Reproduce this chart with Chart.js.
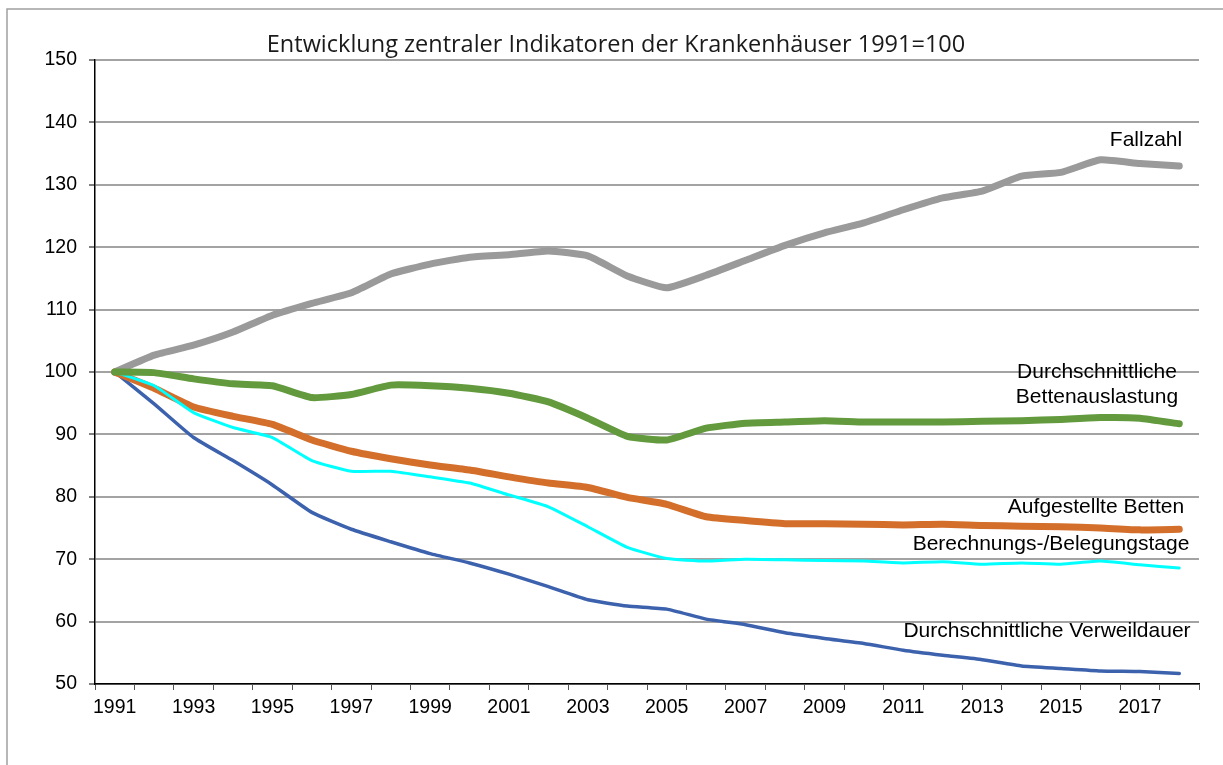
<!DOCTYPE html>
<html>
<head>
<meta charset="utf-8">
<script src="https://cdn.jsdelivr.net/npm/chart.js@4/dist/chart.umd.min.js"></script>
<style>
html,body{margin:0;padding:0;background:#fff;}
#wrap{width:1223px;height:765px;position:relative;}
</style>
</head>
<body>
<div id="wrap"><canvas id="c" width="1223" height="765"></canvas></div>
<script>
const years = ['1991','1992','1993','1994','1995','1996','1997','1998','1999','2000','2001','2002','2003','2004','2005','2006','2007','2008','2009','2010','2011','2012','2013','2014','2015','2016','2017','2018'];
const fallzahl = [100,102.7,104.3,106.4,109.1,111.0,112.7,115.7,117.3,118.4,118.8,119.4,118.6,115.4,113.5,115.5,117.9,120.3,122.3,123.9,126.0,127.9,129.0,131.4,132.0,134.0,133.4,133.0];
const bettenauslastung = [100,99.9,98.9,98.1,97.8,95.9,96.4,97.9,97.8,97.4,96.6,95.2,92.6,89.7,89.1,91.0,91.8,92.0,92.2,92.0,92.0,92.0,92.1,92.2,92.4,92.7,92.6,91.7];
const aufgestellteBetten = [100,97.4,94.4,92.9,91.6,89.1,87.3,86.1,85.1,84.3,83.2,82.2,81.5,79.9,78.8,76.8,76.2,75.7,75.7,75.6,75.5,75.6,75.4,75.3,75.2,75.0,74.7,74.8];
const belegungstage = [100,97.8,93.5,91.1,89.5,85.8,84.1,84.1,83.2,82.2,80.3,78.4,75.2,71.9,70.1,69.7,70.0,69.9,69.8,69.7,69.4,69.6,69.2,69.4,69.2,69.7,69.1,68.6];
const verweildauer = [100,94.9,89.5,85.8,81.9,77.5,74.8,72.8,70.9,69.4,67.6,65.6,63.5,62.5,62.0,60.4,59.5,58.2,57.3,56.5,55.4,54.6,53.9,52.9,52.5,52.1,52.0,51.7];
const yTicks = [50,60,70,80,90,100,110,120,130,140,150];
const titleText = 'Entwicklung zentraler Indikatoren der Krankenhäuser 1991=100';
const seriesLabels = ['Fallzahl','Durchschnittliche\nBettenauslastung','Aufgestellte Betten','Berechnungs-/Belegungstage','Durchschnittliche Verweildauer'];

const FONT = '"Liberation Sans", Arial, sans-serif';

const decor = {
  id: 'decor',
  beforeDraw(chart) {
    const ctx = chart.ctx;
    ctx.save();
    ctx.strokeStyle = '#a0a0a0';
    ctx.lineWidth = 1.5;
    ctx.beginPath();
    ctx.moveTo(7, 800);
    ctx.lineTo(7, 9);
    ctx.lineTo(1300, 9);
    ctx.stroke();
    // title
    ctx.fillStyle = '#1a1a1a';
    ctx.font = '23.5px "Open Sans", sans-serif';
    ctx.textAlign = 'center';
    ctx.textBaseline = 'middle';
    ctx.fillText(titleText, 616, 45);
    ctx.restore();
  },
  afterDatasetsDraw(chart) {
    const ctx = chart.ctx;
    const a = chart.chartArea;
    ctx.save();
    ctx.fillStyle = '#000';
    ctx.font = '21px ' + FONT;
    ctx.textBaseline = 'middle';
    ctx.textAlign = 'center';
    const place = [
      [seriesLabels[0], a.right - 53, 140],
      [seriesLabels[1], a.right - 102, 372],
      [seriesLabels[2], a.right - 103, 507],
      [seriesLabels[3], a.right - 148, 544],
      [seriesLabels[4], a.right - 152, 631]
    ];
    place.forEach(([t, x, y]) => {
      t.split('\n').forEach((line, i) => ctx.fillText(line, x, y + i * 25));
    });
    ctx.restore();
  }
};

const common = { pointRadius: 0, pointHoverRadius: 0, borderCapStyle: 'round', borderJoinStyle: 'round', tension: 0.15, fill: false };

new Chart(document.getElementById('c'), {
  type: 'line',
  data: {
    labels: years,
    datasets: [
      Object.assign({ label: 'Fallzahl', data: fallzahl, borderColor: '#9a9a9a', borderWidth: 7, order: 5 }, common),
      Object.assign({ label: 'Durchschnittliche Verweildauer', data: verweildauer, borderColor: '#3d62ad', borderWidth: 3.5, order: 4 }, common),
      Object.assign({ label: 'Aufgestellte Betten', data: aufgestellteBetten, borderColor: '#d36f2b', borderWidth: 7, order: 3 }, common),
      Object.assign({ label: 'Berechnungs-/Belegungstage', data: belegungstage, borderColor: '#00ffff', borderWidth: 3, order: 2 }, common),
      Object.assign({ label: 'Durchschnittliche Bettenauslastung', data: bettenauslastung, borderColor: '#629a3d', borderWidth: 7, order: 1 }, common)
    ]
  },
  options: {
    responsive: false,
    animation: false,
    devicePixelRatio: 1,
    layout: { padding: { left: 0, top: 60, right: 24, bottom: 0 } },
    plugins: { legend: { display: false }, title: { display: false }, tooltip: { enabled: false } },
    scales: {
      x: {
        type: 'category',
        offset: true,
        grid: { display: true, drawOnChartArea: false, drawTicks: true, tickLength: 6, tickColor: '#555', offset: true, lineWidth: 1 },
        border: { display: true, color: '#000', width: 1.5 },
        ticks: {
          autoSkip: false, maxRotation: 0, minRotation: 0, padding: 6,
          color: '#000', font: { family: FONT, size: 19.5 },
          callback: (v, i) => (i % 2 === 0 ? years[i] : '')
        },
        afterFit(s) { s.height = 81; }
      },
      y: {
        min: 50, max: 150,
        afterBuildTicks(s) { s.ticks = yTicks.map(v => ({ value: v })); },
        grid: { color: '#a3a3a3', lineWidth: 2, drawTicks: true, tickLength: 6, tickColor: '#000', tickWidth: 1 },
        border: { display: true, color: '#000', width: 1.5 },
        ticks: { padding: 12, color: '#000', font: { family: FONT, size: 19.5 } },
        afterFit(s) { s.width = 95; }
      }
    }
  },
  plugins: [decor]
});
</script>
</body>
</html>
